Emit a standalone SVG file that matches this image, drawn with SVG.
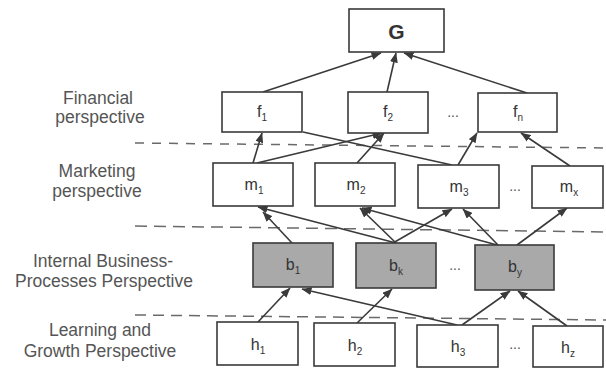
<svg xmlns="http://www.w3.org/2000/svg" width="606" height="369" viewBox="0 0 606 369">
<style>
.box{fill:#fff;stroke:#3a3a3a;stroke-width:1.6}
.gbox{fill:#a9a9a9;stroke:#3a3a3a;stroke-width:1.6}
.lbl{font-family:"Liberation Sans",Arial,sans-serif;font-size:16px;fill:#333;text-anchor:middle}
.sub{font-size:10px}
.side{font-family:"Liberation Sans",Arial,sans-serif;font-size:17.5px;fill:#555;text-anchor:middle}
.dots{font-family:"Liberation Sans",Arial,sans-serif;font-size:14px;fill:#555;text-anchor:middle}
.dash{stroke:#6a6a6a;stroke-width:1.5;fill:none}
.c{stroke:#3a3a3a;stroke-width:1.6;fill:none}
.a{marker-end:url(#ah)}
</style>
<defs>
<marker id="ah" markerUnits="userSpaceOnUse" markerWidth="10" markerHeight="8" refX="9.5" refY="4" orient="auto">
<path d="M0,0 L10,4 L0,8 z" fill="#3a3a3a"/>
</marker>
</defs>
<rect width="606" height="369" fill="#fff"/>

<g id="side-labels">
<text class="side" x="98" y="104">Financial</text>
<text class="side" x="100" y="123">perspective</text>
<text class="side" x="97" y="177">Marketing</text>
<text class="side" x="97" y="197">perspective</text>
<text class="side" x="103" y="267">Internal Business-</text>
<text class="side" x="104" y="287">Processes Perspective</text>
<text class="side" x="100" y="336">Learning and</text>
<text class="side" x="100" y="357">Growth Perspective</text>
</g>

<g id="separators">
<path class="dash" d="M135,143 L606,148" stroke-dasharray="9 8"/>
<path class="dash" d="M135,226 L606,232" stroke-dasharray="12 7"/>
<path class="dash" d="M135,315 L606,320" stroke-dasharray="11 7"/>
</g>

<g id="connectors">
<line class="c a" x1="263" y1="92" x2="381" y2="53"/>
<line class="c a" x1="387" y1="92" x2="396" y2="53"/>
<line class="c a" x1="527" y1="93" x2="404" y2="53"/>
<line class="c a" x1="253" y1="163" x2="262" y2="133"/>
<line class="c a" x1="257" y1="163" x2="382" y2="133"/>
<line class="c a" x1="357" y1="163" x2="384" y2="133"/>
<line class="c" x1="303" y1="132" x2="452" y2="165"/>
<line class="c a" x1="458" y1="165" x2="477" y2="133"/>
<line class="c a" x1="570" y1="166" x2="521" y2="133"/>
<line class="c a" x1="292" y1="243" x2="263" y2="212"/>
<line class="c a" x1="396" y1="243" x2="258" y2="207"/>
<line class="c a" x1="396" y1="243" x2="360" y2="208"/>
<line class="c a" x1="393" y1="243" x2="452" y2="209"/>
<line class="c a" x1="497" y1="245" x2="362" y2="208"/>
<line class="c a" x1="498" y1="245" x2="463" y2="209"/>
<line class="c a" x1="517" y1="245" x2="567" y2="208"/>
<line class="c a" x1="258" y1="322" x2="290" y2="288"/>
<line class="c a" x1="357" y1="323" x2="392" y2="289"/>
<line class="c a" x1="457" y1="325" x2="302" y2="289"/>
<line class="c a" x1="462" y1="325" x2="510" y2="291"/>
<line class="c a" x1="567" y1="326" x2="518" y2="291"/>
</g>

<g id="G"><rect class="box" x="349" y="9" width="95" height="43"/><text class="lbl" x="396.5" y="38.5" style="font-size:21px;font-weight:bold">G</text></g>

<g id="f1"><rect class="box" x="222" y="92" width="80" height="40"/><text class="lbl" x="262" y="117">f<tspan class="sub" dy="4">1</tspan></text></g>
<g id="f2"><rect class="box" x="348" y="92" width="80" height="41"/><text class="lbl" x="388" y="117">f<tspan class="sub" dy="4">2</tspan></text></g>
<text class="dots" x="453" y="117">...</text>
<g id="fn"><rect class="box" x="478" y="93" width="79" height="39"/><text class="lbl" x="518" y="117">f<tspan class="sub" dy="4">n</tspan></text></g>

<g id="m1"><rect class="box" x="213" y="163" width="80" height="43"/><text class="lbl" x="254" y="190">m<tspan class="sub" dy="4">1</tspan></text></g>
<g id="m2"><rect class="box" x="315" y="163" width="80" height="43"/><text class="lbl" x="356" y="190">m<tspan class="sub" dy="4">2</tspan></text></g>
<g id="m3"><rect class="box" x="418" y="165" width="81" height="43"/><text class="lbl" x="459" y="192">m<tspan class="sub" dy="4">3</tspan></text></g>
<text class="dots" x="515" y="191">...</text>
<g id="mx"><rect class="box" x="532" y="166" width="71" height="42"/><text class="lbl" x="569" y="192">m<tspan class="sub" dy="4">x</tspan></text></g>

<g id="b1"><rect class="gbox" x="253" y="243" width="80" height="44"/><text class="lbl" x="293" y="270">b<tspan class="sub" dy="4">1</tspan></text></g>
<g id="bk"><rect class="gbox" x="356" y="243" width="80" height="45"/><text class="lbl" x="396" y="271">b<tspan class="sub" dy="4">k</tspan></text></g>
<text class="dots" x="455" y="270">...</text>
<g id="by"><rect class="gbox" x="475" y="245" width="79" height="45"/><text class="lbl" x="515" y="272">b<tspan class="sub" dy="4">y</tspan></text></g>

<g id="h1"><rect class="box" x="217" y="322" width="81" height="43"/><text class="lbl" x="258" y="350">h<tspan class="sub" dy="4">1</tspan></text></g>
<g id="h2"><rect class="box" x="314" y="323" width="81" height="43"/><text class="lbl" x="355" y="351">h<tspan class="sub" dy="4">2</tspan></text></g>
<g id="h3"><rect class="box" x="417" y="325" width="81" height="42"/><text class="lbl" x="458" y="352">h<tspan class="sub" dy="4">3</tspan></text></g>
<text class="dots" x="515" y="349">...</text>
<g id="hz"><rect class="box" x="533" y="326" width="70" height="41"/><text class="lbl" x="568" y="353">h<tspan class="sub" dy="4">z</tspan></text></g>
</svg>
